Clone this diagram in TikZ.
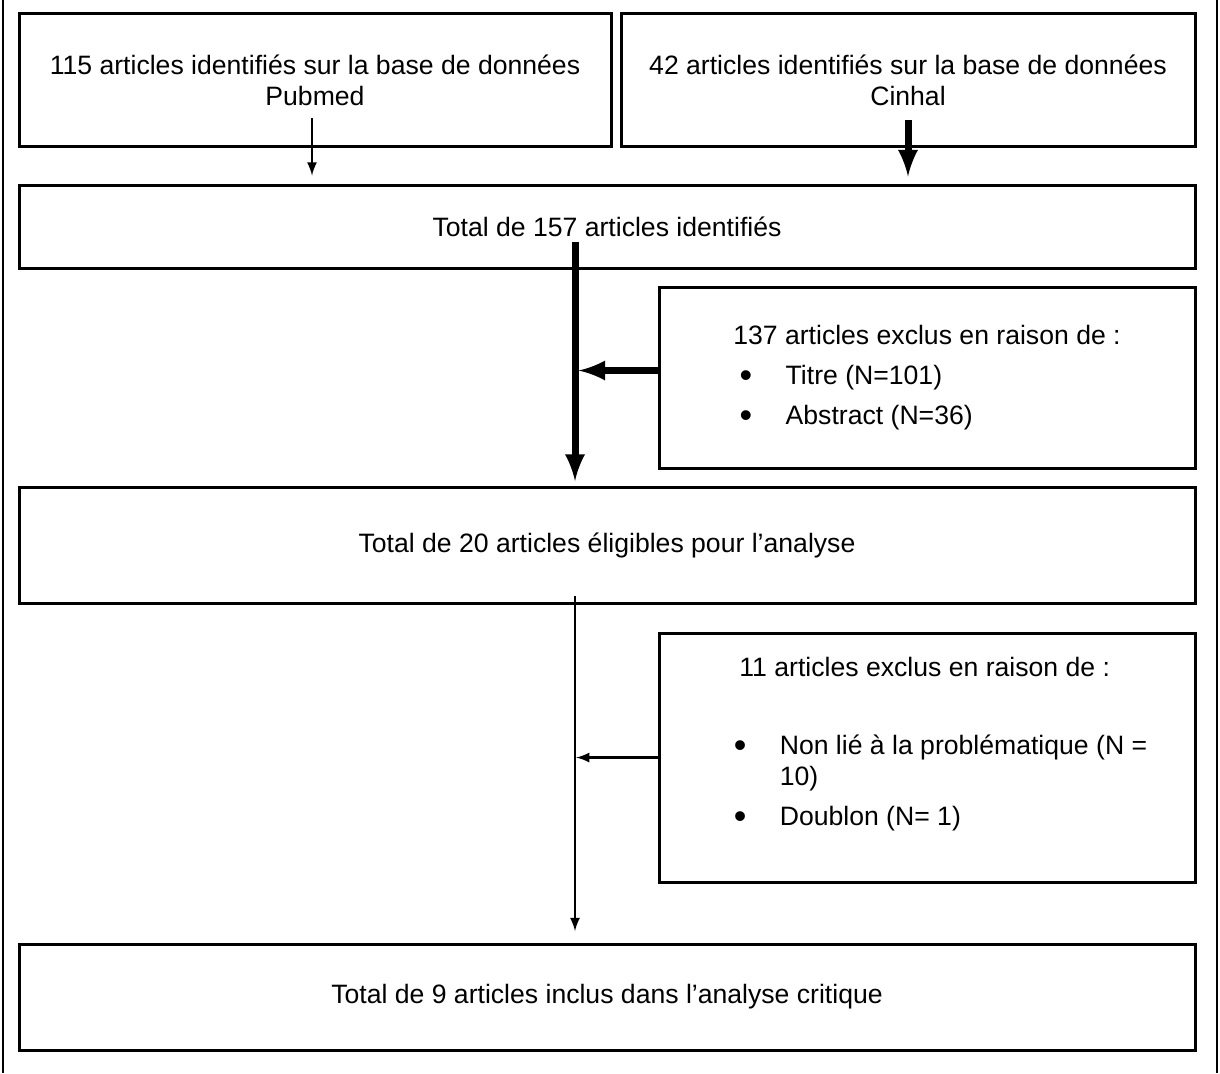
\documentclass[tikz,border=0pt]{standalone}
\usepackage{fontspec}
\setmainfont{Liberation Sans}
\usepackage{tikz}
\usetikzlibrary{arrows.meta}
\newcommand{\puce}{\makebox[23pt][l]{\raisebox{-1.5pt}{\scalebox{1.35}{\textbullet}}}}

\begin{document}
\begin{tikzpicture}[x=0.5pt, y=-0.5pt,
    every node/.style={font=\fontsize{13.3pt}{15.5pt}\selectfont},
    box/.style={draw, line width=1.5pt, inner sep=0, align=center},
    flow/.style={->, >={latex[length=7pt, width=7.5pt]}, line width=1.25pt},
    bigflow/.style={->, >={latex[length=12pt, width=11.5pt]}, line width=3.5pt},
    pageedge/.style={line width=1pt}]

  \useasboundingbox (0, 0) rectangle (1220, 1073);

  \draw[pageedge] (3, 0) -- (3, 1073);
  \draw[pageedge] (1217, 0) -- (1217, 1073);

  \node[box, minimum width=296pt, minimum height=66.5pt]
    (pub) at (315, 80) {115 articles identifiés sur la base de données\\Pubmed};

  \node[box, minimum width=287pt, minimum height=66.5pt]
    (cin) at (908, 80) {42 articles identifiés sur la base de données\\Cinhal};

  \node[box, minimum width=588pt, minimum height=41.5pt]
    (tot1) at (607, 226.5) {Total de 157 articles identifiés};

  \node[box, align=left, minimum width=268pt, minimum height=90.5pt]
    (excl1) at (927, 377.5) {137 articles exclus en raison de :\\[4.5pt]
      \hspace*{3.2pt}\puce Titre (N=101)\\[4.5pt]
      \hspace*{3.2pt}\puce Abstract (N=36)};

  \node[box, minimum width=588pt, minimum height=58pt]
    (tot2) at (607, 545) {Total de 20 articles éligibles pour l’analyse};

  \node[box, minimum width=268pt, minimum height=124.5pt]
    (excl2) at (927, 757.5) {};

  \node[inner sep=0, align=left, anchor=west]
    (excl2txt) at (733.4, 744) {\hspace*{2.8pt}11 articles exclus en raison de :\\[23.5pt]
      \puce Non lié à la problématique (N =\\
      \hspace*{23pt}10)\\[4.5pt]
      \puce Doublon (N= 1)};

  \node[box, minimum width=588pt, minimum height=53pt]
    (tot3) at (607, 997) {Total de 9 articles inclus dans l’analyse critique};

  \coordinate (pubs) at (312, 118);
  \coordinate (cins) at (908, 120);
  \coordinate (m1) at (575, 242);
  \coordinate (m3) at (575, 596);
  \coordinate (d1) at ([yshift=3.5pt]excl1.west);

  \draw[flow, shorten >=4pt] (pubs) -- (pubs |- tot1.north);
  \draw[bigflow, shorten >=3.5pt] (cins) -- (cins |- tot1.north);
  \draw[bigflow, shorten >=2.25pt] (m1) -- (m1 |- tot2.north);
  \draw[bigflow, shorten >=1.75pt] (d1) -- (d1 -| m1);
  \draw[flow, shorten >=5.75pt] (m3) -- (m3 |- tot3.north);
  \draw[flow, shorten >=0.6pt] (excl2.west) -- (excl2.west -| m3);
\end{tikzpicture}
\end{document}
